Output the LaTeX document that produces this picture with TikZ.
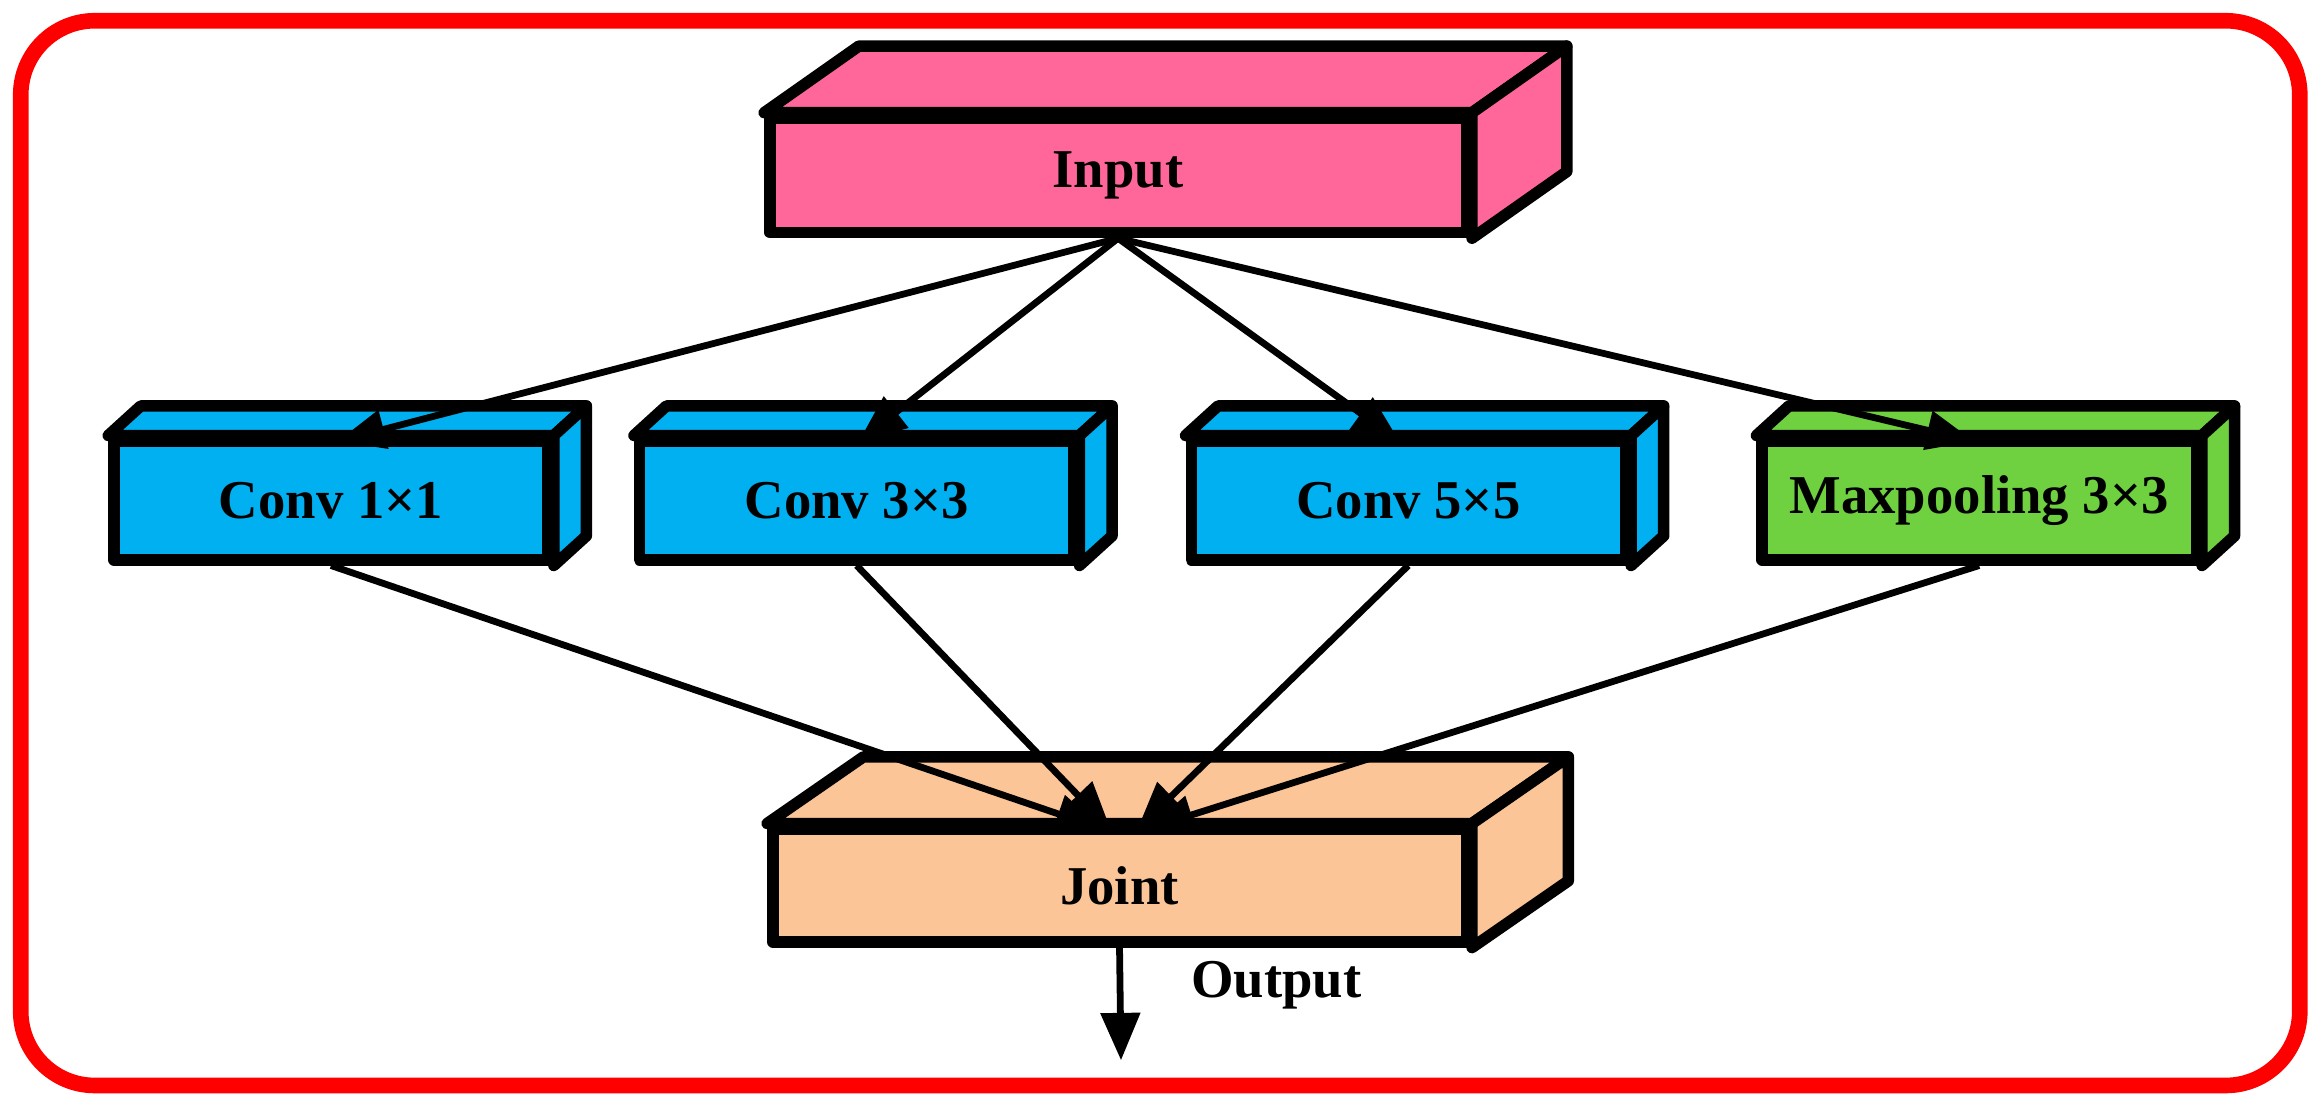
\documentclass[tikz,border=0pt]{standalone}
\usepackage{fontspec}
\setmainfont{Liberation Serif}
\usetikzlibrary{arrows.meta,calc}
\definecolor{cpink}{HTML}{FF6699}
\definecolor{cblue}{HTML}{00B0F0}
\definecolor{cgreen}{HTML}{6FD040}
\definecolor{cpeach}{HTML}{FBC598}
\tikzset{
  face/.style={draw=black,line width=2.2pt,line join=round},
  lbl/.style={font=\bfseries\fontsize{10.5}{12}\selectfont},
  conn/.style={line width=1.3pt,-{Triangle[length=0.32cm,width=0.26cm]}},
}
% #1 name, #2 center, #3 width, #4 height, #5 dx, #6 dy, #7 color, #8 text
\newcommand\mycuboid[8]{%
  \node[face,fill=#7,minimum width=#3,minimum height=#4,inner sep=0pt,lbl] (#1) at #2 {#8};
  \filldraw[face,fill=#7] (#1.north west) -- ++(#5,#6) -- ($(#1.north east)+(#5,#6)$) -- (#1.north east) -- cycle;
  \filldraw[face,fill=#7] (#1.north east) -- ++(#5,#6) -- ($(#1.south east)+(#5,#6)$) -- (#1.south east) -- cycle;
}
\begin{document}
\begin{tikzpicture}[x=0.01cm,y=-0.01cm]
\useasboundingbox (0,0) rectangle (1568,748);
\draw[red,line width=3pt,rounded corners=0.5cm] (14,14) rectangle (1553,733);
\mycuboid{inp}{(755,118.5)}{4.7cm}{0.77cm}{0.64cm}{0.45cm}{cpink}{Input}
\mycuboid{c1}{(223.5,338)}{2.93cm}{0.8cm}{0.22cm}{0.2cm}{cblue}{Conv 1×1}
\mycuboid{c3}{(578.5,338)}{2.93cm}{0.8cm}{0.22cm}{0.2cm}{cblue}{Conv 3×3}
\mycuboid{c5}{(951,338)}{2.93cm}{0.8cm}{0.22cm}{0.2cm}{cblue}{Conv 5×5}
\mycuboid{mp}{(1336.5,338)}{2.93cm}{0.8cm}{0.22cm}{0.2cm}{cgreen}{Maxpooling 3×3}
\mycuboid{jn}{(756,598)}{4.68cm}{0.76cm}{0.65cm}{0.45cm}{cpeach}{Joint}
\coordinate (t1) at (228,298);
\coordinate (t3) at (580,298);
\coordinate (t5) at (945,298);
\coordinate (tm) at (1333,298);
\draw[conn] (inp.south) -- (t1);
\draw[conn] (inp.south) -- (t3);
\draw[conn] (inp.south) -- (t5);
\draw[conn] (inp.south) -- (tm);
\coordinate (j1) at (745,560);
\coordinate (j3) at (750,560);
\coordinate (j5) at (768,560);
\coordinate (jm) at (774,560);
\draw[conn] (c1.south) -- (j1);
\draw[conn] (c3.south) -- (j3);
\draw[conn] (c5.south) -- (j5);
\draw[conn] (mp.south) -- (jm);
\coordinate (out) at (757,716);
\draw[conn] (jn.south) -- (out);
\node[lbl,anchor=west] (outl) at (792,665) {Output};
\end{tikzpicture}
\end{document}
